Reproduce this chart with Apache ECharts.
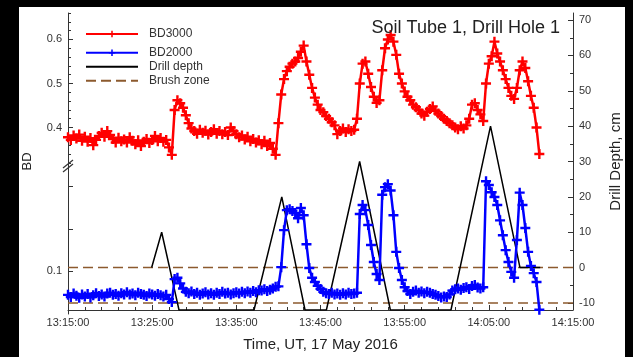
<!DOCTYPE html>
<html>
<head>
<meta charset="utf-8">
<script src="https://cdn.jsdelivr.net/npm/echarts@6/dist/echarts.min.js"></script>
<style>
html, body { margin: 0; padding: 0; background: #000; }
#main { width: 633px; height: 357px; }
</style>
</head>
<body>
<div id="main"></div>
<script>
// start of record, 13:15:00 UT; one reading every 20 s
var startHour = 13, startMin = 15;
var stepMin = 1 / 3;

// BD3000 readings, 3 per minute
var bd3000 = [
    0.378,0.372,0.382, 0.375,0.384,0.370, 0.379,0.368,0.376, 0.360,0.372,0.381, 0.388,0.379,0.392,
    0.383,0.374,0.366, 0.377,0.369,0.373, 0.366,0.378,0.370, 0.362,0.371,0.358, 0.368,0.374,0.365,
    0.372,0.381,0.369, 0.376,0.368,0.372, 0.355,0.338,0.440, 0.462,0.455,0.445, 0.428,0.410,0.398,
    0.392,0.386,0.395, 0.388,0.393,0.384, 0.390,0.396,0.386, 0.392,0.385,0.390, 0.383,0.400,0.392,
    0.385,0.378,0.382, 0.373,0.379,0.369, 0.374,0.366,0.371, 0.362,0.370,0.358, 0.365,0.352,0.338,
    0.410,0.475,0.510, 0.528,0.538,0.545, 0.550,0.558,0.572, 0.586,0.550,0.520, 0.490,0.468,0.452,
    0.440,0.435,0.426, 0.420,0.412,0.405, 0.385,0.392,0.398, 0.390,0.396,0.392, 0.395,0.420,0.500,
    0.545,0.550,0.522, 0.492,0.470,0.456, 0.462,0.530,0.580, 0.600,0.610,0.595, 0.565,0.522,0.500,
    0.482,0.470,0.462, 0.452,0.446,0.440, 0.432,0.427,0.436, 0.442,0.448,0.438, 0.432,0.426,0.420,
    0.415,0.410,0.405, 0.400,0.396,0.403, 0.398,0.405,0.420, 0.452,0.455,0.440, 0.430,0.415,0.500,
    0.545,0.562,0.595, 0.568,0.550,0.530, 0.510,0.490,0.472, 0.465,0.490,0.530, 0.550,0.535,0.505,
    0.472,0.445,0.400, 0.340
];

// BD2000 readings, same times
var bd2000 = [
    0.045,0.040,0.048, 0.043,0.038,0.046, 0.041,0.047,0.039, 0.044,0.049,0.042, 0.046,0.041,0.048,
    0.050,0.045,0.047, 0.043,0.049,0.046, 0.051,0.046,0.048, 0.044,0.050,0.047, 0.045,0.042,0.048,
    0.046,0.043,0.047, 0.044,0.041,0.045, 0.035,0.028,0.082, 0.085,0.072,0.060, 0.052,0.049,0.053,
    0.047,0.050,0.045, 0.048,0.051,0.046, 0.049,0.045,0.050, 0.047,0.052,0.048, 0.050,0.046,0.049,
    0.051,0.048,0.052, 0.049,0.053,0.050, 0.054,0.051,0.056, 0.055,0.058,0.054, 0.057,0.060,0.064,
    0.065,0.110,0.197, 0.244,0.246,0.242, 0.237,0.225,0.249, 0.232,0.164,0.108, 0.085,0.075,0.066,
    0.059,0.052,0.049, 0.047,0.050,0.046, 0.048,0.045,0.049, 0.046,0.050,0.047, 0.048,0.050,0.235,
    0.256,0.244,0.209, 0.162,0.122,0.094, 0.080,0.280,0.298, 0.305,0.290,0.232, 0.146,0.108,0.080,
    0.063,0.054,0.047, 0.052,0.055,0.050, 0.053,0.049,0.052, 0.050,0.047,0.045, 0.042,0.039,0.041,
    0.040,0.046,0.055, 0.058,0.060,0.057, 0.061,0.063,0.059, 0.066,0.068,0.062, 0.060,0.063,0.312,
    0.303,0.286,0.275, 0.256,0.220,0.185, 0.150,0.122,0.099, 0.085,0.174,0.285, 0.256,0.202,0.146,
    0.113,0.096,0.075, 0.010
];

// drill depth (cm) at minutes after 13:15
var drillTime  = [9.94, 11.13, 13.19, 22.1, 25.4, 28.16, 30.7, 34.65, 38.3, 45.5, 50.2, 53.7, 56.1];
var drillDepth = [0, 10, -12, -12, 20, -12, -12, 30, -12, -12, 40, 0, 0];

var brushLevels = [0, -10];

function timeSeries(values) {
    var res = [];
    for (var i = 0; i < values.length; i++) {
        res.push([i * stepMin, values[i]]);
    }
    return res;
}

function pairs(xs, ys) {
    var res = [];
    for (var i = 0; i < xs.length; i++) res.push([xs[i], ys[i]]);
    return res;
}

function timeLabel(v) {
    var m = startMin + Math.round(v);
    var h = startHour + Math.floor(m / 60);
    m = m % 60;
    return h + ':' + (m < 10 ? '0' : '') + m + ':00';
}

var brushData = [];
brushLevels.forEach(function (lv, i) {
    if (i > 0) brushData.push(['-', '-']);
    brushData.push([0, lv], [60, lv]);
});

var plusSymbol = 'path://M3.8,0H6.2V3.8H10V6.2H6.2V10H3.8V6.2H0V3.8H3.8Z';
var FONT = 'Liberation Sans, Arial, sans-serif';
var axisColor = '#333';

var myChart = echarts.init(document.getElementById('main'));

var hiddenX = function (g) {
    return { gridIndex: g, type: 'value', min: 0, max: 60, show: false };
};

var legendText = { fontSize: 12, color: '#333', lineHeight: 14, padding: [0, 0, 0, 6] };

option = {
    backgroundColor: '#000',
    animation: false,
    textStyle: { fontFamily: FONT },
    title: {
        text: 'Soil Tube 1, Drill Hole 1',
        right: 68,
        top: 14,
        textStyle: { fontSize: 18, fontWeight: 'normal', color: '#222', fontFamily: FONT }
    },
    graphic: [
        { type: 'rect', z: -10, silent: true, shape: { x: 19, y: 7, width: 606, height: 350 }, style: { fill: '#fff' } },
        { type: 'line', z: 10, shape: { x1: 63, y1: 168, x2: 73, y2: 160 }, style: { stroke: '#333', lineWidth: 1.2 } },
        { type: 'line', z: 10, shape: { x1: 63, y1: 172, x2: 73, y2: 164 }, style: { stroke: '#333', lineWidth: 1.2 } }
    ],
    legend: [{
        data: ['BD3000'],
        left: 85,
        top: 27,
        padding: 0,
        orient: 'vertical',
        itemWidth: 52,
        itemHeight: 8,
        textStyle: legendText
    }, {
        data: [
            'BD2000',
            { name: 'Drill depth', itemStyle: { opacity: 0 } },
            { name: 'Brush zone', itemStyle: { opacity: 0 } }
        ],
        left: 85,
        top: 45.7,
        padding: 0,
        orient: 'vertical',
        itemGap: 0,
        itemWidth: 52,
        itemHeight: 8,
        textStyle: legendText
    }],
    grid: [
        { left: 68, right: 60, top: 13, bottom: 43 },
        { left: 68, right: 60, top: 13, height: 152 },
        { left: 68, right: 60, top: 165, bottom: 43 }
    ],
    xAxis: [{
        gridIndex: 0,
        type: 'value',
        min: 0,
        max: 60,
        interval: 10,
        name: 'Time, UT, 17 May 2016',
        nameLocation: 'middle',
        nameGap: 27,
        nameTextStyle: { fontSize: 15, color: '#222' },
        axisLine: { onZero: false, lineStyle: { color: axisColor } },
        axisTick: { inside: true, length: 5, lineStyle: { color: axisColor } },
        minorTick: { show: true, splitNumber: 5, length: 3, lineStyle: { color: axisColor } },
        axisLabel: { fontSize: 11, color: '#333', margin: 7, formatter: timeLabel },
        splitLine: { show: false }
    }, hiddenX(1), hiddenX(2)],
    yAxis: [{
        // carries only the "BD" title
        gridIndex: 0,
        position: 'left',
        type: 'value',
        min: 0,
        max: 1,
        name: 'BD',
        nameLocation: 'middle',
        nameGap: 34,
        nameTextStyle: { fontSize: 13, color: '#222' },
        axisLine: { show: false, onZero: false },
        axisTick: { show: false },
        axisLabel: { show: false },
        splitLine: { show: false }
    }, {
        gridIndex: 0,
        position: 'right',
        type: 'value',
        min: -12,
        max: 72,
        name: 'Drill Depth, cm',
        nameLocation: 'middle',
        nameRotate: 90,
        nameGap: 35,
        nameTextStyle: { fontSize: 15, color: '#222' },
        axisLine: { show: true, onZero: false, lineStyle: { color: axisColor } },
        axisTick: { inside: true, length: 5, customValues: [-10, 0, 10, 20, 30, 40, 50, 60, 70], lineStyle: { color: axisColor } },
        axisLabel: { fontSize: 11, color: '#333', margin: 6, customValues: [-10, 0, 10, 20, 30, 40, 50, 60, 70] },
        splitLine: { show: false }
    }, {
        gridIndex: 0,
        position: 'right',
        type: 'value',
        min: -12,
        max: 72,
        axisLine: { show: false, onZero: false },
        axisTick: { inside: true, length: 3, customValues: [-5, 5, 15, 25, 35, 45, 55, 65], lineStyle: { color: axisColor } },
        axisLabel: { show: false },
        splitLine: { show: false }
    }, {
        gridIndex: 1,
        position: 'left',
        type: 'value',
        min: 0.315,
        max: 0.66,
        axisLine: { show: true, onZero: false, lineStyle: { color: axisColor } },
        axisTick: { inside: true, length: 5, customValues: [0.4, 0.5, 0.6], lineStyle: { color: axisColor } },
        axisLabel: { fontSize: 11, color: '#333', margin: 6, customValues: [0.4, 0.5, 0.6] },
        splitLine: { show: false }
    }, {
        gridIndex: 1,
        position: 'left',
        type: 'value',
        min: 0.315,
        max: 0.66,
        axisLine: { show: false, onZero: false },
        axisTick: { inside: true, length: 3, customValues: [0.32, 0.34, 0.36, 0.38, 0.42, 0.44, 0.46, 0.48, 0.52, 0.54, 0.56, 0.58, 0.62, 0.64, 0.66], lineStyle: { color: axisColor } },
        axisLabel: { show: false },
        splitLine: { show: false }
    }, {
        gridIndex: 2,
        position: 'left',
        type: 'value',
        min: 0,
        max: 0.35,
        axisLine: { show: true, onZero: false, lineStyle: { color: axisColor } },
        axisTick: { inside: true, length: 5, customValues: [0.1, 0.2, 0.3], lineStyle: { color: axisColor } },
        axisLabel: { fontSize: 11, color: '#333', margin: 6, customValues: [0.1] },
        splitLine: { show: false }
    }],
    series: [{
        name: 'Brush zone',
        type: 'line',
        xAxisIndex: 0,
        yAxisIndex: 1,
        symbol: 'none',
        connectNulls: false,
        lineStyle: { color: '#8c5a2e', width: 1.6, type: [10, 5] },
        itemStyle: { color: '#8c5a2e' },
        data: brushData,
        z: 1
    }, {
        name: 'Drill depth',
        type: 'line',
        xAxisIndex: 0,
        yAxisIndex: 1,
        symbol: 'none',
        lineStyle: { color: '#000', width: 1.5 },
        itemStyle: { color: '#000' },
        data: pairs(drillTime, drillDepth),
        z: 2
    }, {
        name: 'BD2000',
        type: 'line',
        xAxisIndex: 2,
        yAxisIndex: 5,
        symbol: plusSymbol,
        symbolSize: 10,
        lineStyle: { color: '#0000ff', width: 2.5 },
        itemStyle: { color: '#0000ff' },
        data: timeSeries(bd2000),
        z: 3
    }, {
        name: 'BD3000',
        type: 'line',
        xAxisIndex: 1,
        yAxisIndex: 3,
        symbol: plusSymbol,
        symbolSize: 10,
        lineStyle: { color: '#ff0000', width: 2.5 },
        itemStyle: { color: '#ff0000' },
        data: timeSeries(bd3000),
        z: 3
    }]
};

myChart.setOption(option);
</script>
</body>
</html>
